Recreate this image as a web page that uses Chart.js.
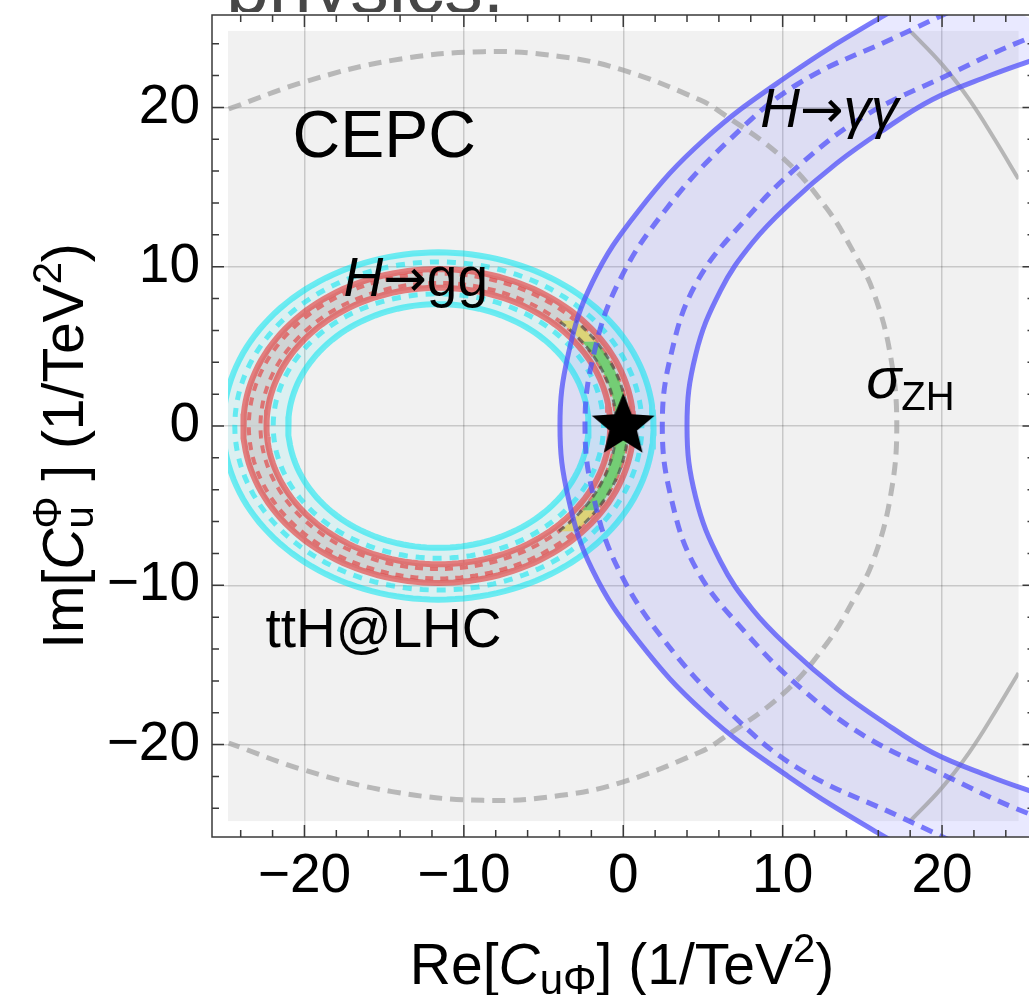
<!DOCTYPE html>
<html>
<head>
<meta charset="utf-8">
<script src="https://cdn.jsdelivr.net/npm/chart.js@4.4.1/dist/chart.umd.min.js"></script>
<style>
html,body{margin:0;padding:0;background:#fff;overflow:hidden;width:1029px;height:995px}
#wrap{position:relative;width:1029px;height:995px;overflow:hidden}
#c{position:absolute;left:0;top:0}
#cut{position:absolute;left:0;top:0;width:700px;height:12px;overflow:hidden}
#cut span{position:absolute;left:226px;top:-52px;font:77px/77px "Liberation Sans",Arial,sans-serif;color:#474747;white-space:nowrap}
</style>
</head>
<body>
<div id="wrap">
<canvas id="c" width="1040" height="995" style="width:1040px;height:995px"></canvas>
<div id="cut"><span>physics.</span></div>
</div>
<script>
// axes
const axisMin = -25.8, axisMax = 25.8;
const plotRange = 24.8;          // grey plot region is [-plotRange, plotRange]
const tickStep = 2;
const labelStep = 10;

// H->gg (CEPC): ellipses around one centre, order: solid out, dashed out, dashed in, solid in
const ggCenterX = -11.6;
const ggRx = [12.24, 11.89, 11.16, 10.78];
const ggRy = [9.85, 9.57, 8.98, 8.68];

// ttH @ LHC, same order
const tthCenterX = -11.6;
const tthRx = [13.5, 12.77, 10.36, 9.42];
const tthRy = [10.9, 10.3, 8.3, 7.65];

// H->gamma gamma band: x read at |Im| levels (the lower half is the mirror)
const aaOuterSolidY = [0, 4.5, 9, 13.5, 18, 22, 25.5, 28];
const aaOuterSolidX = [-3.97, -3.45, -1.95, 0.95, 5.1, 10.35, 15.9, 20.5];
const aaOuterDashY = [0, 4.5, 9, 13.5, 18, 21.5, 24.5, 27];
const aaOuterDashX = [-2.4, -1.85, -0.3, 2.6, 6.7, 11.0, 17.3, 22.6];
const aaInnerDashY = [0, 4.5, 9, 13, 16.5, 19.5, 22, 24, 25.5];
const aaInnerDashX = [2.45, 3.0, 4.6, 7.7, 11.2, 15.2, 20.3, 24.6, 28.7];
const aaInnerSolidY = [0, 4.5, 8.5, 11.5, 14, 16.5, 18.5, 20.5, 22, 23, 24];
const aaInnerSolidX = [4.0, 4.55, 6.1, 8.1, 10.5, 13.4, 16.2, 19.4, 23.0, 25.8, 28.8];

// sigma_ZH, upper half from left to right
const zhDashX = [-24.75, -20.0, -14.5, -8.8, -4.0, 0, 4.83, 6.08, 10.05, 12.77, 14.44, 15.69, 16.75, 17.16];
const zhDashY = [19.9, 21.6, 22.95, 23.5, 23.2, 22.34, 20.46, 19.72, 16.79, 13.65, 10.93, 8.42, 4.5, 0];
const zhSolidX = [18.0, 20.0, 21.7, 23.3, 24.8];
const zhSolidY = [24.8, 22.7, 20.5, 18.0, 15.5];

// combined region on the gg band (|Im| limits)
const greenYMax = 5.3;
const yellowYMax = 6.6;
const smPoint = [0, 0];

const fontFamily = '"Liberation Sans", Arial, sans-serif';

function ellipse(cx, rx, ry, t0, t1, n) {
  const pts = [];
  for (let i = 0; i <= n; i++) {
    const t = t0 + (t1 - t0) * i / n;
    pts.push({x: cx + rx * Math.cos(t), y: ry * Math.sin(t)});
  }
  return pts;
}
function fullEllipse(cx, rx, ry) { return ellipse(cx, rx, ry, 0, 2 * Math.PI, 160); }
// curve given for y>=0 (y ascending), drawn from top to bottom
function mirrored(xs, ys) {
  const pts = [];
  for (let i = xs.length - 1; i >= 0; i--) pts.push({x: xs[i], y: ys[i]});
  for (let i = 1; i < xs.length; i++) pts.push({x: xs[i], y: -ys[i]});
  return pts;
}
// upper half given left->right ending on y=0
function closedHalf(xs, ys) {
  const pts = xs.map((x, i) => ({x: x, y: ys[i]}));
  for (let i = xs.length - 2; i >= 0; i--) pts.push({x: xs[i], y: -ys[i]});
  return pts;
}

function starImage(R, r) {
  const c = document.createElement('canvas');
  c.width = c.height = Math.ceil(2 * R + 4);
  const g = c.getContext('2d');
  const m = c.width / 2;
  g.beginPath();
  for (let i = 0; i < 10; i++) {
    const rad = i % 2 ? r : R;
    const a = -Math.PI / 2 + i * Math.PI / 5;
    g.lineTo(m + rad * Math.cos(a), m + rad * Math.sin(a));
  }
  g.closePath();
  g.fillStyle = '#000';
  g.fill();
  return c;
}

const layers = [];
function addLine(data, color, width, dash, more) {
  layers.push(Object.assign({data: data, showLine: true, borderColor: color, borderWidth: width,
    borderDash: dash || [], pointRadius: 0, pointHoverRadius: 0, pointHitRadius: 0, fill: false, tension: 0}, more || {}));
}
function addArea(data, color, more) {
  layers.push(Object.assign({data: data, showLine: true, borderWidth: 0, borderColor: 'rgba(0,0,0,0)',
    backgroundColor: color, pointRadius: 0, pointHoverRadius: 0, pointHitRadius: 0, fill: 'shape', tension: 0}, more || {}));
}

const regionInset = -16;   // clip some curves to the grey region
const RED = 'rgba(230,50,50,0.6)';
const CYAN = 'rgba(0,230,240,0.55)';
const BLUE = 'rgba(80,80,250,0.75)';

// gamma gamma band fill
const aaBand = mirrored(aaOuterSolidX, aaOuterSolidY).concat(mirrored(aaInnerSolidX, aaInnerSolidY).reverse());
addArea(aaBand, 'rgba(110,110,255,0.15)', {tension: 0.4});

// sigma ZH
addLine(closedHalf(zhDashX, zhDashY), 'rgba(160,160,160,0.7)', 5, [13, 8], {tension: 0.4, clip: regionInset});
addLine(zhSolidX.map((x, i) => ({x: x, y: zhSolidY[i]})), 'rgba(150,150,150,0.65)', 4, [], {tension: 0.4, clip: regionInset});
addLine(zhSolidX.map((x, i) => ({x: x, y: -zhSolidY[i]})), 'rgba(150,150,150,0.65)', 4, [], {tension: 0.4, clip: regionInset});

// ttH band fill, clamped to the grey region
const tthBand = fullEllipse(tthCenterX, tthRx[0], tthRy[0]).concat(fullEllipse(tthCenterX, tthRx[3], tthRy[3]).reverse())
  .map(p => ({x: Math.max(p.x, -plotRange), y: p.y}));
addArea(tthBand, 'rgba(0,230,240,0.09)');

// gg band fill
const ggBand = fullEllipse(ggCenterX, ggRx[0], ggRy[0]).concat(fullEllipse(ggCenterX, ggRx[3], ggRy[3]).reverse());
addArea(ggBand, 'rgba(205,205,205,0.8)');

// ttH lines
tthRx.forEach((rx, i) => {
  const dashed = i === 1 || i === 2;
  addLine(fullEllipse(tthCenterX, rx, tthRy[i]), CYAN, dashed ? 5 : 6, dashed ? [9, 8] : [], {clip: regionInset});
});
// gg lines
ggRx.forEach((rx, i) => {
  const dashed = i === 1 || i === 2;
  addLine(fullEllipse(ggCenterX, rx, ggRy[i]), RED, dashed ? 4 : 6, dashed ? [8, 7] : []);
});

// combined region
function bandPiece(y0, y1) {
  const ro = [ggRx[1], ggRy[1]], ri = [ggRx[2], ggRy[2]];
  const a0 = Math.asin(y0 / ro[1]), a1 = Math.asin(y1 / ro[1]);
  const b0 = Math.asin(y0 / ri[1]), b1 = Math.asin(y1 / ri[1]);
  return ellipse(ggCenterX, ro[0], ro[1], a0, a1, 40).concat(ellipse(ggCenterX, ri[0], ri[1], b1, b0, 40));
}
addArea(bandPiece(-greenYMax, greenYMax), 'rgba(100,205,100,0.85)');
addArea(bandPiece(greenYMax, yellowYMax), 'rgba(222,212,110,0.9)');
addArea(bandPiece(-yellowYMax, -greenYMax), 'rgba(222,212,110,0.9)');
[1, 2].forEach(i => {
  const t = Math.asin(yellowYMax / ggRy[i]);
  addLine(ellipse(ggCenterX, ggRx[i], ggRy[i], -t, t, 60), 'rgba(70,70,70,0.65)', 3, [7, 5]);
});

// gamma gamma lines
addLine(mirrored(aaOuterSolidX, aaOuterSolidY), BLUE, 5, [], {tension: 0.4});
addLine(mirrored(aaOuterDashX, aaOuterDashY), BLUE, 5, [12, 8], {tension: 0.4});
addLine(mirrored(aaInnerDashX, aaInnerDashY), BLUE, 5, [12, 8], {tension: 0.4});
addLine(mirrored(aaInnerSolidX, aaInnerSolidY), BLUE, 5, [], {tension: 0.4});

// SM point
layers.push({data: [{x: smPoint[0], y: smPoint[1]}], pointStyle: starImage(33, 14.5), pointRadius: 30,
  pointHoverRadius: 30, showLine: false, backgroundColor: '#000', borderColor: '#000'});

layers.forEach((d, i) => { d.order = layers.length - i; });

function fontOf(p) { return (p.it ? 'italic ' : '') + p.s + 'px ' + (p.f || fontFamily); }
function richText(ctx, parts, x, y, align) {
  let total = 0;
  parts.forEach(p => { ctx.font = fontOf(p); p.w = ctx.measureText(p.t).width; if (!p.back) total += p.w; });
  let cx = align === 'center' ? x - total / 2 : x;
  parts.forEach(p => {
    ctx.font = fontOf(p);
    ctx.fillText(p.t, cx, y + (p.dy || 0));
    if (!p.back) cx += p.w;
  });
}

const ARROW_FONT = '"DejaVu Sans", sans-serif';
const plotLabels = [
  {x: -20.75, y: 16.9, parts: [{t: 'CEPC', s: 66}]},
  {x: -17.55, y: 8.17, parts: [{t: 'H', s: 55, it: true}, {t: '\u2192', s: 52, f: ARROW_FONT}, {t: 'gg', s: 55}]},
  {x: -22.45, y: -13.9, parts: [{t: 'ttH@LHC', s: 55}]},
  {x: 8.59, y: 18.8, parts: [{t: 'H', s: 55, it: true}, {t: '\u2192', s: 52, f: ARROW_FONT}, {t: '\u03b3\u03b3', s: 55, it: true}]},
  {x: 15.25, y: 1.76, parts: [{t: '\u03c3', s: 58, it: true}, {t: 'ZH', s: 40, dy: 12}]}
];

const decor = {
  id: 'decor',
  beforeDraw(chart) {
    const {ctx, scales: {x, y}} = chart;
    const l = x.getPixelForValue(-plotRange), r = x.getPixelForValue(plotRange);
    const t = y.getPixelForValue(plotRange), b = y.getPixelForValue(-plotRange);
    ctx.save();
    ctx.fillStyle = '#f1f1f1';
    ctx.fillRect(l, t, r - l, b - t);
    ctx.restore();
  },
  afterDatasetsDraw(chart) {
    const {ctx, chartArea: a, scales: {x, y}} = chart;
    ctx.save();
    ctx.strokeStyle = '#3a3a3a';
    ctx.lineWidth = 1.5;
    ctx.strokeRect(a.left, a.top, a.right - a.left, a.bottom - a.top);
    ctx.beginPath();
    x.ticks.forEach(tk => {
      const p = x.getPixelForValue(tk.value);
      const len = tk.value % labelStep === 0 ? 12 : 7;
      ctx.moveTo(p, a.bottom); ctx.lineTo(p, a.bottom - len);
      ctx.moveTo(p, a.top); ctx.lineTo(p, a.top + len);
    });
    y.ticks.forEach(tk => {
      const p = y.getPixelForValue(tk.value);
      const len = tk.value % labelStep === 0 ? 12 : 7;
      ctx.moveTo(a.left, p); ctx.lineTo(a.left + len, p);
      ctx.moveTo(a.right, p); ctx.lineTo(a.right - len, p);
    });
    ctx.stroke();
    ctx.restore();
  },
  afterDraw(chart) {
    const {ctx, scales: {x, y}} = chart;
    ctx.save();
    ctx.fillStyle = '#000';
    ctx.textBaseline = 'alphabetic';
    ctx.textAlign = 'left';
    plotLabels.forEach(lb => richText(ctx, lb.parts, x.getPixelForValue(lb.x), y.getPixelForValue(lb.y), 'left'));
    // axis titles
    richText(ctx, [{t: 'Re[', s: 57}, {t: 'C', s: 57, it: true}, {t: 'u\u03a6', s: 42, dy: 10},
      {t: '] (1/TeV', s: 57}, {t: '2', s: 40, dy: -22}, {t: ')', s: 57}], 622, 984, 'center');
    ctx.translate(83, 446);
    ctx.rotate(-Math.PI / 2);
    richText(ctx, [{t: 'Im[', s: 57}, {t: 'C', s: 57, it: true}, {t: 'u', s: 40, dy: 10, back: true},
      {t: '\u03a6', s: 40, dy: -22}, {t: ' ] (1/TeV', s: 57}, {t: '2', s: 40, dy: -22}, {t: ')', s: 57}], 0, 0, 'center');
    ctx.restore();
  }
};

function tickLabel(v) { return v % labelStep === 0 ? String(v).replace('-', '\u2212') : ''; }
function gridColor(c) { return c.tick && c.tick.value % labelStep === 0 ? 'rgba(0,0,0,0.17)' : 'rgba(0,0,0,0)'; }
function noPad(s) { s.paddingTop = 0; s.paddingBottom = 0; s.paddingLeft = 0; s.paddingRight = 0; }

new Chart(document.getElementById('c'), {
  type: 'scatter',
  data: {datasets: layers},
  options: {
    responsive: false,
    animation: false,
    events: [],
    layout: {autoPadding: false, padding: {top: 15, right: 5.5, left: 0, bottom: 0}},
    plugins: {legend: {display: false}, tooltip: {enabled: false}},
    scales: {
      x: {
        type: 'linear', min: axisMin, max: axisMax,
        border: {display: false},
        grid: {color: gridColor, lineWidth: 1.5, drawTicks: false},
        ticks: {stepSize: tickStep, includeBounds: false, autoSkip: false, maxRotation: 0, padding: 7,
          color: '#000', font: {family: fontFamily, size: 55}, callback: tickLabel},
        afterFit: s => { s.height = 158; noPad(s); }
      },
      y: {
        type: 'linear', min: axisMin, max: axisMax,
        border: {display: false},
        grid: {color: gridColor, lineWidth: 1.5, drawTicks: false},
        ticks: {stepSize: tickStep, includeBounds: false, autoSkip: false, padding: 12,
          color: '#000', font: {family: fontFamily, size: 55}, callback: tickLabel},
        afterFit: s => { s.width = 212; noPad(s); }
      }
    }
  },
  plugins: [decor]
});
</script>
</body>
</html>
